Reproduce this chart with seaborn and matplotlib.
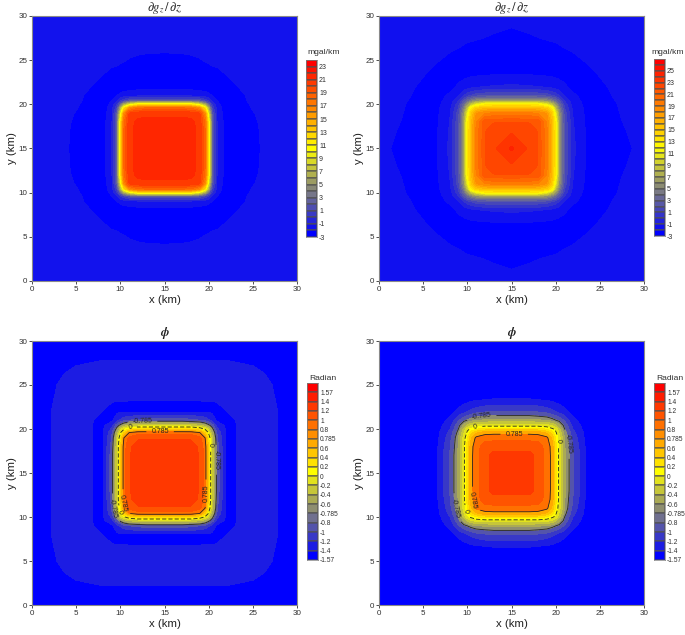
import numpy as np
import matplotlib
matplotlib.use("Agg")
import matplotlib.pyplot as plt
from matplotlib.colors import ListedColormap
import seaborn as sns

# Distance from the centre of the map (km), grid is symmetric about x = y = 15
offsets = [0, 2, 3, 4, 4.6, 5, 5.4, 6, 7, 8.5, 10, 11.5, 13, 15]

# Values, one row per offset, upper triangle of a quarter map
gz_rows_a = [
    [21.6, 21.5, 21.3, 20.7, 18, 11, 2, -1.2, -2.4, -2.4, -2.25, -1.8, -1.65, -1.6],
    [21.4, 21.3, 20.7, 18, 11, 2, -1.2, -2.4, -2.4, -2.2, -1.8, -1.65, -1.6],
    [21.3, 20.6, 17.8, 11, 2, -1.3, -2.4, -2.4, -2.15, -1.75, -1.65, -1.6],
    [20, 16, 8.5, 1.6, -1.4, -2.5, -2.4, -2.05, -1.7, -1.65, -1.6],
    [11, 5.5, 0.6, -1.6, -2.5, -2.35, -1.95, -1.7, -1.65, -1.6],
    [2, 0, -1.8, -2.5, -2.3, -1.9, -1.7, -1.65, -1.6],
    [-1.2, -2, -2.5, -2.25, -1.8, -1.7, -1.6, -1.6],
    [-2.4, -2.5, -2.2, -1.75, -1.65, -1.6, -1.6],
    [-2.4, -1.95, -1.7, -1.65, -1.6, -1.6],
    [-1.7, -1.65, -1.6, -1.6, -1.6],
    [-1.6, -1.6, -1.6, -1.6],
    [-1.6, -1.6, -1.6],
    [-1.6, -1.6],
    [-1.6],
]
gz_rows_b = [
    [24.2, 22.8, 21.9, 19.3, 15.8, 12.5, 6, 2, -0.8, -2.1, -2.3, -2.3, -2.1, -1.8],
    [22.8, 21.9, 19.2, 15.7, 12.5, 6, 2, -0.9, -2.1, -2.3, -2.25, -2, -1.8],
    [21.7, 19, 15.6, 12.5, 6, 1.8, -1, -2.2, -2.3, -2.2, -1.92, -1.8],
    [17.8, 14.5, 10.5, 5.6, 1.6, -1.2, -2.2, -2.3, -2.15, -1.85, -1.8],
    [12.5, 8, 4.4, 1, -1.4, -2.2, -2.25, -2.1, -1.85, -1.8],
    [6, 3.4, 0.6, -1.6, -2.2, -2.2, -2.07, -1.85, -1.8],
    [2, 0, -1.7, -2.25, -2.2, -2.03, -1.85, -1.8],
    [-1, -1.9, -2.25, -2.2, -1.98, -1.82, -1.8],
    [-2.2, -2.25, -2.13, -1.9, -1.8, -1.8],
    [-2.15, -1.95, -1.82, -1.8, -1.8],
    [-1.82, -1.8, -1.8, -1.8],
    [-1.8, -1.8, -1.8],
    [-1.8, -1.8],
    [-1.8],
]
phi_rows_a = [
    [1.38, 1.37, 1.34, 1.17, 0.9, 0.4, -0.3, -0.9, -1.44, -1.39, -1.33, -1.33, -1.41, -1.5],
    [1.37, 1.34, 1.17, 0.9, 0.4, -0.3, -0.9, -1.44, -1.39, -1.33, -1.33, -1.41, -1.5],
    [1.32, 1.16, 0.89, 0.4, -0.3, -0.95, -1.44, -1.39, -1.33, -1.33, -1.41, -1.5],
    [1.05, 0.78, 0.2, -0.36, -1, -1.44, -1.39, -1.33, -1.33, -1.41, -1.5],
    [0.4, -0.05, -0.52, -1.08, -1.43, -1.39, -1.33, -1.33, -1.41, -1.5],
    [-0.3, -0.7, -1.18, -1.43, -1.39, -1.33, -1.33, -1.41, -1.5],
    [-0.9, -1.28, -1.44, -1.39, -1.33, -1.33, -1.41, -1.5],
    [-1.44, -1.44, -1.38, -1.33, -1.33, -1.41, -1.5],
    [-1.4, -1.36, -1.33, -1.33, -1.41, -1.5],
    [-1.34, -1.33, -1.34, -1.43, -1.5],
    [-1.33, -1.35, -1.46, -1.5],
    [-1.42, -1.5, -1.5],
    [-1.5, -1.5],
    [-1.5],
]
phi_rows_b = [
    [1.35, 1.25, 1.15, 0.92, 0.72, 0.28, -0.07, -0.55, -1, -1.42, -1.5, -1.5, -1.5, -1.5],
    [1.25, 1.15, 0.92, 0.72, 0.28, -0.07, -0.55, -1, -1.42, -1.5, -1.5, -1.5, -1.5],
    [1.12, 0.9, 0.71, 0.28, -0.07, -0.58, -1.03, -1.45, -1.5, -1.5, -1.5, -1.5],
    [0.84, 0.55, 0.18, -0.11, -0.61, -1.09, -1.47, -1.5, -1.5, -1.5, -1.5],
    [0.28, 0.05, -0.23, -0.7, -1.15, -1.48, -1.5, -1.5, -1.5, -1.5],
    [-0.07, -0.36, -0.78, -1.22, -1.5, -1.5, -1.5, -1.5, -1.5],
    [-0.55, -0.85, -1.28, -1.5, -1.5, -1.5, -1.5, -1.5],
    [-1.03, -1.36, -1.5, -1.5, -1.5, -1.5, -1.5],
    [-1.47, -1.5, -1.5, -1.5, -1.5, -1.5],
    [-1.5, -1.5, -1.5, -1.5, -1.5],
    [-1.5, -1.5, -1.5, -1.5],
    [-1.5, -1.5, -1.5],
    [-1.5, -1.5],
    [-1.5],
]

# Colour band edges
gz_levels_a = list(range(-3, 25))
gz_levels_b = list(range(-3, 28))
phi_levels = [-1.57, -1.4, -1.2, -1, -0.8, -0.785, -0.6, -0.4, -0.2, 0,
              0.2, 0.4, 0.6, 0.785, 0.8, 1, 1.2, 1.4, 1.57, 1.8]

# Tick labels
map_ticks = [0, 5, 10, 15, 20, 25, 30]
phi_tick_labels = ["-1.57", "-1.4", "-1.2", "-1", "-0.8", "-0.785", "-0.6", "-0.4", "-0.2", "0",
                   "0.2", "0.4", "0.6", "0.785", "0.8", "1", "1.2", "1.4", "1.57"]

# Where the contour labels sit (km)
label_spots_a = [(12.5, 20.7), (20.7, 16.5), (9.3, 11), (14.5, 19.5), (19.5, 12.7), (10.4, 11.6),
                 (11.1, 20.1), (20.2, 18.2), (9.8, 10.5)]
label_spots_b = [(11.6, 21.5), (21.4, 18.3), (8.5, 11), (15.3, 19.3), (10.7, 11.9),
                 (10.9, 20.3), (20.2, 18.6), (9.6, 10.5)]

FIG_W, FIG_H = 685, 635


def px_axes(fig, left, top, right, bottom):
    # Add an axes from pixel edges measured on the picture.
    return fig.add_axes([left / FIG_W, 1 - bottom / FIG_H, (right - left) / FIG_W, (bottom - top) / FIG_H])


def build_field(rows):
    # Fill the quarter map from its upper triangle, then mirror it to the full map.
    n = len(rows)
    quarter = np.zeros((n, n))
    for i, row in enumerate(rows):
        quarter[i, i:] = row
        quarter[i:, i] = row
    idx = list(range(n - 1, 0, -1)) + list(range(n))
    return quarter[np.ix_(idx, idx)]


def draw_map(ax, rows, levels, title):
    # Filled contour map on the 30 x 30 km square.
    off = np.array(offsets)
    coords = np.concatenate([15 - off[:0:-1], 15 + off])
    palette = sns.blend_palette(["#0000ff", "#ffff00", "#ff0000"], len(levels) - 1)
    ax.contourf(coords, coords, build_field(rows), levels=levels, colors=palette, antialiased=False)
    ax.set_xlim(0, 30)
    ax.set_ylim(0, 30)
    ax.set_xticks(map_ticks)
    ax.set_yticks(map_ticks)
    ax.set_aspect("auto")
    ax.tick_params(length=2, width=0.6, labelsize=5.8, pad=1.5, colors="#303030")
    ax.set_xlabel("x (km)", fontsize=8.2, labelpad=1.5, color="#202020")
    ax.set_ylabel("y (km)", fontsize=8.2, labelpad=1, color="#202020")
    ax.set_title(title, fontsize=9, pad=3, color="#202020")
    for side in ax.spines.values():
        side.set_visible(True)
        side.set_linewidth(0.8)
        side.set_color("#8a8a8a")
    return coords


def draw_strip(fig, box, levels, labels, tick_at, unit, unit_xy, label_size):
    # Colour strip as a one column heatmap, labels at the lower edge of the bands.
    cax = px_axes(fig, *box)
    n = len(levels) - 1
    palette = sns.blend_palette(["#0000ff", "#ffff00", "#ff0000"], n)
    bands = np.arange(n)[::-1].reshape(-1, 1)
    sns.heatmap(bands, ax=cax, cmap=ListedColormap(palette), vmin=-0.5, vmax=n - 0.5, cbar=False,
                xticklabels=False, yticklabels=False, linewidths=0.3, linecolor="#50505090")
    cax.yaxis.tick_right()
    cax.set_yticks([n - i for i in tick_at])
    cax.set_yticklabels(labels, rotation=0)
    cax.tick_params(axis="y", length=0, labelsize=label_size, pad=1.5, colors="#303030", right=False, left=False)
    for side in cax.spines.values():
        side.set_visible(True)
        side.set_linewidth(0.5)
        side.set_color("#808080")
    fig.text(unit_xy[0] / FIG_W, 1 - unit_xy[1] / FIG_H, unit, fontsize=6.1, color="#303030",
             ha="center", va="center")


def add_contours(ax, coords, rows, spots):
    # Dashed zero line and solid +/-0.785 lines with their labels.
    lines = ax.contour(coords, coords, build_field(rows), levels=[-0.785, 0, 0.785], colors="#252525",
                       linewidths=0.6, linestyles=["solid", (0, (5, 2.5)), "solid"])
    ax.clabel(lines, fmt={-0.785: "-0.785", 0: "0", 0.785: "0.785"}, manual=spots, inline=True, fontsize=5)


sns.set_theme(style="ticks", font="Liberation Sans")
plt.rcParams["mathtext.fontset"] = "stix"

fig = plt.figure(figsize=(FIG_W / 100, FIG_H / 100), dpi=100)

gz_title = r"$\partial g_z\,/\,\partial z$"
phi_title = r"$\boldsymbol{\phi}$"

ax1 = px_axes(fig, 32, 16, 297, 281)
draw_map(ax1, gz_rows_a, gz_levels_a, gz_title)
draw_strip(fig, (306, 60, 317, 237), gz_levels_a, [str(v) for v in gz_levels_a[:-1:2]],
           list(range(0, 27, 2)), "mgal/km", (324, 53), 5)

ax2 = px_axes(fig, 379, 16, 644, 281)
draw_map(ax2, gz_rows_b, gz_levels_b, gz_title)
draw_strip(fig, (654, 59, 665, 236), gz_levels_b, [str(v) for v in gz_levels_b[:29:2]],
           list(range(0, 29, 2)), "mgal/km", (668, 53), 5)

ax3 = px_axes(fig, 32, 341, 297, 605)
c3 = draw_map(ax3, phi_rows_a, phi_levels, phi_title)
add_contours(ax3, c3, phi_rows_a, label_spots_a)
draw_strip(fig, (307, 383, 318, 560), phi_levels, phi_tick_labels, list(range(19)), "Radian", (323, 378), 4.8)

ax4 = px_axes(fig, 379, 341, 644, 605)
c4 = draw_map(ax4, phi_rows_b, phi_levels, phi_title)
add_contours(ax4, c4, phi_rows_b, label_spots_b)
draw_strip(fig, (654, 383, 665, 560), phi_levels, phi_tick_labels, list(range(19)), "Radian", (670, 378), 4.8)

fig.savefig("out.png", dpi=100)
